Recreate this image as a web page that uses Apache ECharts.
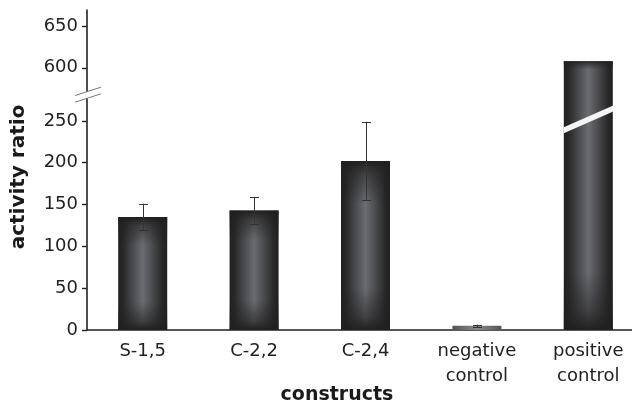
<!DOCTYPE html>
<html><head><meta charset="utf-8">
<script src="https://cdn.jsdelivr.net/npm/echarts@6/dist/echarts.min.js"></script>
<style>html,body{margin:0;padding:0;background:#fff}#c{width:632px;height:405px}</style>
</head><body><div id="c"></div>
<script>
// ---- data ----
const categories = ['S-1,5', 'C-2,2', 'C-2,4', 'negative\ncontrol', 'positive\ncontrol'];
const means = [135, 143, 202, 5, 608];
const errors = [16, 16, 47, 1.5, null];
const lowerTicks = [0, 50, 100, 150, 200, 250];
const upperTicks = [600, 650];
const lowerMax = 281, upperMin = 567, upperMax = 670;

// ---- style ----
const FONT = 'DejaVu Sans';
const GRID_LEFT = 87, GRID_W = 557, BREAK_Y = 95;
const BAR_W = 49;
const INK = '#222';

const baseGrad = new echarts.graphic.LinearGradient(0, 0, 1, 0, [
  {offset: 0, color: '#202020'}, {offset: 0.1, color: '#282828'},
  {offset: 0.3, color: '#4a4b4f'}, {offset: 0.5, color: '#6b6c71'},
  {offset: 0.7, color: '#4a4b4f'}, {offset: 0.9, color: '#282828'}, {offset: 1, color: '#202020'}]);
const negGrad = new echarts.graphic.LinearGradient(0, 0, 1, 0, [
  {offset: 0, color: '#555'}, {offset: 0.5, color: '#8a8a8a'}, {offset: 1, color: '#555'}]);
function vGrad(top, bottom) {
  const c = a => 'rgba(32,32,32,' + a + ')';
  return new echarts.graphic.LinearGradient(0, 0, 0, 1, [
    {offset: 0, color: c(top ? 1 : 0)}, {offset: 0.08, color: c(top ? 0.55 : 0)},
    {offset: 0.25, color: c(0)}, {offset: 0.75, color: c(0)},
    {offset: 0.92, color: c(bottom ? 0.55 : 0)}, {offset: 1, color: c(bottom ? 1 : 0)}]);
}
const isNeg = i => categories[i].startsWith('negative');
const isSplit = v => v > lowerMax;

const lowerBase = means.map((v, i) => ({value: Math.min(v, lowerMax), itemStyle: {color: isNeg(i) ? negGrad : baseGrad}}));
const lowerOver = means.map((v, i) => ({value: Math.min(v, lowerMax),
  itemStyle: {color: isNeg(i) ? 'rgba(0,0,0,0)' : vGrad(!isSplit(v), true)}}));
const upperBase = means.map((v, i) => v > upperMin ? {value: v, itemStyle: {color: baseGrad}} : '-');
const upperOver = means.map((v, i) => v > upperMin ? {value: v, itemStyle: {color: vGrad(true, false)}} : '-');
const errData = means.map((m, i) => errors[i] == null ? null : [i, m, errors[i]]).filter(Boolean);

const chart = echarts.init(document.getElementById('c'), null, {renderer: 'canvas'});

const axisLineStyle = {color: INK, width: 1.6};
chart.setOption({
  animation: false,
  textStyle: {fontFamily: FONT},
  grid: [
    {left: GRID_LEFT, width: GRID_W, top: BREAK_Y, bottom: 75, outerBoundsMode: 'none', containLabel: false},
    {left: GRID_LEFT, width: GRID_W, top: 10, bottom: 405 - BREAK_Y, outerBoundsMode: 'none', containLabel: false}
  ],
  xAxis: [
    {type: 'category', gridIndex: 0, data: categories,
     axisLine: {lineStyle: axisLineStyle}, axisTick: {show: false},
     axisLabel: {color: INK, fontSize: 18, fontFamily: FONT, margin: 9, lineHeight: 25, interval: 0}},
    {type: 'category', gridIndex: 1, data: categories, show: false}
  ],
  yAxis: [
    {type: 'value', gridIndex: 0, min: 0, max: lowerMax,
     axisLine: {show: true, lineStyle: axisLineStyle},
     axisTick: {show: true, length: 5, lineStyle: {color: INK, width: 1.4}, customValues: lowerTicks},
     axisLabel: {color: INK, fontSize: 18, fontFamily: FONT, margin: 9, customValues: lowerTicks},
     splitLine: {show: false}},
    {type: 'value', gridIndex: 1, min: upperMin, max: upperMax,
     axisLine: {show: true, lineStyle: axisLineStyle},
     axisTick: {show: true, length: 5, lineStyle: {color: INK, width: 1.4}, customValues: upperTicks},
     axisLabel: {color: INK, fontSize: 18, fontFamily: FONT, margin: 9, customValues: upperTicks},
     splitLine: {show: false}}
  ],
  series: [
    {type: 'bar', xAxisIndex: 0, yAxisIndex: 0, barWidth: BAR_W, barGap: '-100%', data: lowerBase, z: 2},
    {type: 'bar', xAxisIndex: 0, yAxisIndex: 0, barWidth: BAR_W, barGap: '-100%', data: lowerOver, z: 3},
    {type: 'bar', xAxisIndex: 1, yAxisIndex: 1, barWidth: BAR_W, barGap: '-100%', data: upperBase, z: 2},
    {type: 'bar', xAxisIndex: 1, yAxisIndex: 1, barWidth: BAR_W, barGap: '-100%', data: upperOver, z: 3},
    {type: 'custom', xAxisIndex: 0, yAxisIndex: 0, z: 5, data: errData,
     renderItem: function (params, api) {
       const x = api.value(0), m = api.value(1), e = api.value(2);
       const t = api.coord([x, m + e]), b = api.coord([x, m - e]);
       const cx = Math.round(t[0]) + 0.5, hw = 4.5;
       const st = {stroke: '#333', lineWidth: 1};
       return {type: 'group', children: [
         {type: 'line', shape: {x1: cx, y1: t[1], x2: cx, y2: b[1]}, style: st},
         {type: 'line', shape: {x1: cx - hw, y1: Math.round(t[1]) + 0.5, x2: cx + hw, y2: Math.round(t[1]) + 0.5}, style: st},
         {type: 'line', shape: {x1: cx - hw, y1: Math.round(b[1]) + 0.5, x2: cx + hw, y2: Math.round(b[1]) + 0.5}, style: st}
       ]};
     }}
  ]
});

// ---- decorations: axis break marks, stripe on the split bar, axis titles ----
const breakY = chart.convertToPixel({yAxisIndex: 0}, lowerMax);
const ax = GRID_LEFT;
const graphics = [
  {type: 'polygon', z: 10, shape: {points: [[ax - 12, breakY + 0.5], [ax + 14, breakY - 7.8], [ax + 14, breakY - 1.2], [ax - 12, breakY + 7.2]]},
   style: {fill: '#fff'}},
  {type: 'line', z: 11, shape: {x1: ax - 12, y1: breakY + 0.5, x2: ax + 14, y2: breakY - 7.8}, style: {stroke: '#777', lineWidth: 1}},
  {type: 'line', z: 11, shape: {x1: ax - 12, y1: breakY + 7.2, x2: ax + 14, y2: breakY - 1.2}, style: {stroke: '#777', lineWidth: 1}},
  {type: 'text', z: 11, x: 19, y: 177, rotation: Math.PI / 2,
   style: {text: 'activity ratio', font: 'bold 20px "DejaVu Sans"', fill: '#1a1a1a', align: 'center', verticalAlign: 'middle'}},
  {type: 'text', z: 11, x: 337, y: 395,
   style: {text: 'constructs', font: 'bold 19px "DejaVu Sans"', fill: '#1a1a1a', align: 'center', verticalAlign: 'middle'}}
];
means.forEach((v, i) => {
  if (!isSplit(v)) return;
  const cx = chart.convertToPixel({xAxisIndex: 0}, i);
  const cy = chart.convertToPixel({yAxisIndex: 0}, 252);
  const l = cx - BAR_W / 2, r = cx + BAR_W / 2 + 1;
  graphics.push({type: 'polygon', z: 10, shape: {points: [[l, cy + 11 - 3], [r, cy - 11 - 3], [r, cy - 11 + 3], [l, cy + 11 + 3]]},
    style: {fill: '#f4f4f4'}});
});
chart.setOption({graphic: graphics});
</script></body></html>
